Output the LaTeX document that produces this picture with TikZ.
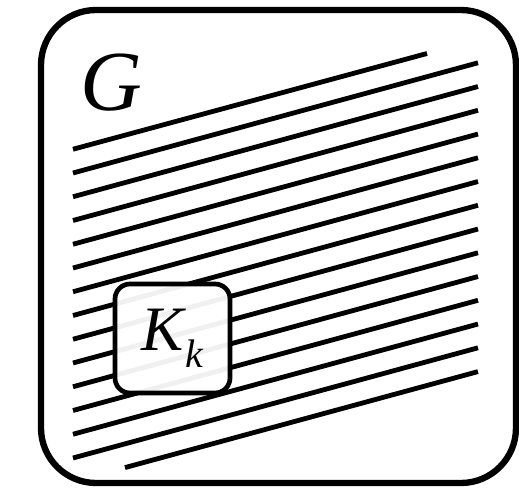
\documentclass[tikz,border=0pt]{standalone}
\usepackage{fontspec}
\newfontfamily\figfont{Liberation Serif}
\usepackage{tikz}
\usetikzlibrary{positioning}
\definecolor{ink}{HTML}{000000}
\tikzset{
  outerbox/.style={draw=ink,line width=5.4pt,rounded corners=1.65cm},
  hatchline/.style={draw=ink,line width=4.1pt},
  subbox/.style={draw=ink,fill=white,fill opacity=0.94,text opacity=1,
                 line width=4pt,rounded corners=0.45cm,
                 minimum width=3.45cm,minimum height=3.27cm,inner sep=0pt,
                 font=\figfont\itshape\fontsize{54}{60}\selectfont},
  biglabel/.style={inner sep=0pt,font=\figfont\itshape\fontsize{73}{80}\selectfont}
}
\begin{document}
\begin{tikzpicture}[x=0.03cm,y=0.03cm]
        \path[use as bounding box] (0,0) rectangle (519,491);
        \draw[outerbox] (41,8) rectangle (516,481);
        % hatching
        \draw[hatchline] (73,341.75) -- (427,437.5);
        \foreach \i in {1,...,13}{
          \draw[hatchline] (73,{341.75-23.75*\i}) -- ++(405,110.2);
        }
        \draw[hatchline] (125,23.4) -- (478,119.4);
        \node[biglabel] (glabel) at (111.5,408.5) {G};
        \node[subbox] (kbox) at (172.5,152.5)
          {K\kern1pt\raisebox{-14.5pt}{\fontsize{34}{40}\selectfont k}};
      \end{tikzpicture}
\end{document}
